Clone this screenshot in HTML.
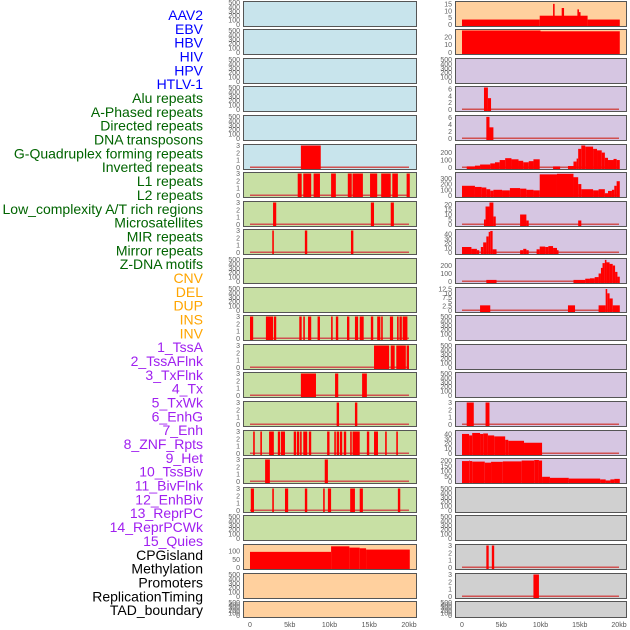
<!DOCTYPE html>
<html><head><meta charset="utf-8">
<style>
html,body{margin:0;padding:0;background:#fff;}
svg{display:block;font-family:"Liberation Sans",sans-serif;}
</style></head>
<body>
<svg id="chart" width="630" height="630" viewBox="0 0 630 630"></svg>
<script>
// ---- data ----
const trackLabels = ["AAV2","EBV","HBV","HIV","HPV","HTLV-1","Alu repeats","A-Phased repeats","Directed repeats","DNA transposons","G-Quadruplex forming repeats","Inverted repeats","L1 repeats","L2 repeats","Low_complexity A/T rich regions","Microsatellites","MIR repeats","Mirror repeats","Z-DNA motifs","CNV","DEL","DUP","INS","INV","1_TssA","2_TssAFlnk","3_TxFlnk","4_Tx","5_TxWk","6_EnhG","7_Enh","8_ZNF_Rpts","9_Het","10_TssBiv","11_BivFlnk","12_EnhBiv","13_ReprPC","14_ReprPCWk","15_Quies","CPGisland","Methylation","Promoters","ReplicationTiming","TAD_boundary"];
const labelGroups = [6,13,5,15,5];
const groupColors = ["#0000ff","#006400","#ffa500","#a020f0","#000000"];
const xTickLabels = ["0","5kb","10kb","15kb","20kb"];
const xTickValues = [0,5,10,15,20];
const emptyTicks = [0,100,200,300,400,500];
const barTicks = [0,1,2,3];

const m6 = [[6.4,8.9,3]];
const m7 = [[6.0,6.5,3],[6.7,7.7,3],[8.0,8.8,3],[10.2,10.8,3],[12.3,12.8,3],[12.9,14.2,3],[15.1,16.0,3],[16.5,17.7,3],[17.9,18.6,3],[19.7,20.1,3]];
const m8 = [[2.9,3.3,3],[15.2,15.6,3],[17.7,18.1,3]];
const m9 = [[2.8,3.0,3],[6.9,7.2,3],[12.7,13.0,3]];
const m12 = [[0,0.4,3],[2.0,2.9,3],[3.0,3.3,3],[6.2,6.5,3],[6.7,6.9,3],[7.3,7.7,3],[8.5,8.8,3],[10.2,10.4,3],[10.8,11.1,3],[12.2,12.5,3],[13.2,13.6,3],[13.8,14.3,3],[15.2,15.5,3],[16.0,16.4,3],[16.5,16.7,3],[17.6,18.0,3],[18.5,18.7,3],[18.8,19.1,3],[19.2,19.8,3]];
const m13 = [[15.6,17.5,3],[17.7,18.2,3],[18.4,19.6,3],[19.7,20.0,3]];
const m14 = [[6.4,8.3,3],[10.7,11.1,3],[14.1,14.7,3]];
const m15 = [[10.9,11.2,3],[13.2,13.5,3]];
const m16 = [[0.4,0.6,3],[1.3,1.5,3],[2.4,3.0,3],[3.5,3.8,3],[3.9,4.4,3],[5.5,5.8,3],[5.9,6.2,3],[6.3,6.5,3],[6.7,7.2,3],[7.4,7.7,3],[9.7,10.0,3],[10.6,10.8,3],[10.9,11.2,3],[11.3,11.6,3],[11.8,12.1,3],[12.6,12.8,3],[12.9,13.8,3],[14.7,15.0,3],[15.6,16.1,3],[17.0,17.2,3],[18.4,18.6,3]];
const m17 = [[1.9,2.5,3],[9.4,9.8,3]];
const m18 = [[0.1,0.5,3],[2.8,3.0,3],[4.4,4.8,3],[6.9,7.2,3],[9.2,9.4,3],[9.8,10.2,3],[12.6,13.2,3],[13.8,14.2,3],[18.6,18.9,3]];
const m20 = [[0,10.2,96],[10.2,12.5,130],[12.5,13.8,122],[13.8,14.6,118],[14.6,20.1,110]];

const r1 = [[0,9.9,3.6],[9.9,16.0,6.4],[11.6,11.8,15],[12.7,13.0,12],[14.7,14.9,11],[14.9,15.1,9],[16.0,20.1,3.6]];
const r2 = [[0,10,28],[10,20.1,27]];
const r4 = [[2.8,3.3,6.4],[3.3,3.7,3.3]];
const r5 = [[3.1,3.5,6.2],[3.5,4.0,3.2]];
const r6 = [[0.6,1.65,15],[1.65,2.3,25],[2.3,3.6,40],[3.6,4.2,55],[4.2,4.8,70],[4.8,5.5,100],[5.5,6.3,125],[6.3,7.2,110],[7.2,7.8,90],[7.8,8.5,70],[8.5,9.1,85],[9.1,9.9,110],[11.6,12.5,15],[13.5,14.2,20],[14.2,14.6,80],[14.6,14.8,120],[14.8,15.2,250],[15.2,15.7,295],[15.7,16.7,280],[16.7,17.2,250],[17.2,17.8,230],[17.8,18.2,200],[18.2,18.6,130],[18.6,19.3,100],[19.3,19.7,115],[19.7,20.1,100]];
const r7 = [[0,1.65,170],[1.65,2.5,150],[2.5,3.1,140],[3.1,3.6,110],[3.6,4.0,85],[4.0,5.1,100],[5.1,6.1,90],[6.1,7.4,130],[7.4,8.2,120],[8.2,9.1,100],[9.1,9.9,90],[9.9,12.1,370],[12.1,14.2,380],[14.2,14.8,320],[14.8,15.2,200],[15.2,16.7,110],[16.7,17.4,90],[17.4,18.2,110],[18.2,18.6,40],[18.6,19.1,80],[19.1,19.4,100],[19.4,19.7,170],[19.7,20.1,250]];
const r8 = [[2.8,3.0,5],[3.0,3.5,18],[3.5,4.0,22],[4.0,4.3,8],[7.4,8.2,10],[8.2,8.5,4],[14.8,15.2,4]];
const r9 = [[0,1.2,12],[1.2,1.9,8],[1.9,2.2,5],[2.4,2.7,12],[2.7,3.1,22],[3.1,3.4,35],[3.4,3.6,45],[3.6,3.9,47],[3.9,4.4,7],[7.4,7.8,5],[7.8,8.2,8],[8.2,8.5,5],[9.5,9.9,7],[9.9,10.6,13],[10.6,11.0,12],[11.0,11.6,14],[11.6,12.1,10],[12.1,12.3,5]];
const r10 = [[3.1,4.4,20],[14.2,15.7,20],[15.7,16.3,35],[16.3,16.9,40],[16.9,17.4,55],[17.4,17.7,100],[17.7,17.9,170],[17.9,18.2,230],[18.2,18.4,270],[18.4,18.8,240],[18.8,19.2,220],[19.2,19.5,200],[19.5,19.8,120],[19.8,20.1,60]];
const r11 = [[2.3,3.6,3],[13.5,14.4,3],[17.4,18.3,3],[18.3,18.5,12.5],[18.5,18.8,10],[18.8,19.2,7],[19.2,20.1,3]];
const r15 = [[0.6,1.5,3],[3.0,3.5,3]];
const r16 = [[0,0.9,40],[0.9,1.3,37],[1.3,2.3,42],[2.3,2.7,40],[2.7,3.3,41],[3.3,4.1,37],[4.1,5.5,35],[5.5,5.9,28],[5.9,7.9,26],[7.9,10.2,22]];
const r17 = [[0,0.9,195],[0.9,1.0,200],[1.0,1.3,195],[1.3,2.9,190],[2.9,3.7,180],[3.7,5.2,188],[5.2,7.6,192],[7.6,9.2,200],[9.2,9.8,205],[9.8,10.2,200],[10.2,11.2,45],[11.2,13.6,35],[13.6,17.6,28],[17.6,18.3,20],[18.3,18.9,10],[18.9,19.4,20],[19.4,20.1,25]];
const r20 = [[3.1,3.4,3],[3.8,4.1,3]];
const r21 = [[9.1,9.8,3]];

const BLUE="#c8e4ec", GREEN="#c8e0a4", PEACH="#ffd09e", LAV="#d6c6e2", GREY="#d0d0d0";
const panels = [
 [0,0,BLUE,emptyTicks,[],0],[0,1,BLUE,emptyTicks,[],0],[0,2,BLUE,emptyTicks,[],0],[0,3,BLUE,emptyTicks,[],0],[0,4,BLUE,emptyTicks,[],0],
 [0,5,BLUE,barTicks,m6,1],[0,6,GREEN,barTicks,m7,1],[0,7,GREEN,barTicks,m8,1],[0,8,GREEN,barTicks,m9,1],
 [0,9,GREEN,emptyTicks,[],0],[0,10,GREEN,emptyTicks,[],0],
 [0,11,GREEN,barTicks,m12,1],[0,12,GREEN,barTicks,m13,1],[0,13,GREEN,barTicks,m14,1],[0,14,GREEN,barTicks,m15,1],
 [0,15,GREEN,barTicks,m16,1],[0,16,GREEN,barTicks,m17,1],[0,17,GREEN,barTicks,m18,1],[0,18,GREEN,emptyTicks,[],0],
 [0,19,PEACH,[0,50,100],m20,0,135],[0,20,PEACH,emptyTicks,[],0],[0,21,PEACH,emptyTicks,[],0],
 [1,0,PEACH,[0,5,10,15],r1,0,16],[1,1,PEACH,[0,10,20],r2,0,28],[1,2,LAV,emptyTicks,[],0],
 [1,3,LAV,[0,2,4,6],r4,1,6.4],[1,4,LAV,[0,2,4,6],r5,1,6.3],[1,5,LAV,[0,100,200],r6,1,295],[1,6,LAV,[0,100,200,300],r7,1,385],
 [1,7,LAV,[0,5,10,15,20],r8,1,22],[1,8,LAV,[0,10,20,30,40],r9,1,48],[1,9,LAV,[0,100,200],r10,1,275],
 [1,10,LAV,[0,2.5,5,7.5,10,12.5],r11,1,12.8],[1,11,LAV,emptyTicks,[],0],[1,12,LAV,emptyTicks,[],0],[1,13,LAV,emptyTicks,[],0],
 [1,14,LAV,barTicks,r15,1],[1,15,LAV,[0,10,20,30,40],r16,1,45],[1,16,LAV,[0,50,100,150,200],r17,1,210],
 [1,17,GREY,emptyTicks,[],0],[1,18,GREY,emptyTicks,[],0],[1,19,GREY,barTicks,r20,1],[1,20,GREY,barTicks,r21,1],[1,21,GREY,emptyTicks,[],0]
];

const NS="http://www.w3.org/2000/svg";
const svg=document.getElementById('chart');
function mk(tag,attrs,parent){const e=document.createElementNS(NS,tag);for(const k in attrs)e.setAttribute(k,attrs[k]);(parent||svg).appendChild(e);return e;}
const colX=[[243,416,250,409],[455,626,462,619]];
function xScale(col,kb){const c=colX[col];return c[2]+(c[3]-c[2])*kb/20;}
function rowTop(r){return Math.round(0.5+r*28.6);}
function rowH(r){return r===21?16:25;}

let li=0;
labelGroups.forEach((n,g)=>{for(let k=0;k<n;k++){const t=mk('text',{x:203,y:15+li*13.84+5,'text-anchor':'end','font-size':'14',fill:groupColors[g]});


t.textContent=trackLabels[li];li++;}});

panels.forEach((p,i)=>{
 const [col,row,bg,ticks,segs,base,ymaxOpt]=p;
 const g=mk('g',{});
 
 
 const c=colX[col], top=rowTop(row), h=rowH(row);
 mk('rect',{x:c[0]+0.5,y:top+0.5,width:c[1]-c[0],height:h,fill:bg,stroke:'#555','stroke-width':1},g);
 const y0=top+h-1.5, y1=top+1.5;
 const ymax=ymaxOpt||ticks[ticks.length-1];
 const yS=v=>y0-(y0-y1)*Math.min(v,ymax)/ymax;
 ticks.forEach(t=>{const tx=mk('text',{x:c[0]-3,y:yS(t)+2.5,'text-anchor':'end','font-size':'7',fill:'#606060'},g);
  
  
  tx.textContent=t;});
 if(base){const bl=mk('rect',{x:xScale(col,0),y:y0-1,width:xScale(col,20)-xScale(col,0),height:1.5,fill:'#d05050'},g);
  
  }
 segs.forEach(s=>{const x0=xScale(col,s[0]),x1=xScale(col,s[1]);const yy=yS(s[2]);
  const r=mk('rect',{x:x0,y:yy,width:Math.max(0.8,x1-x0),height:top+h-yy,fill:'#ff0000'},g);
  
  });
});
[0,1].forEach(col=>{xTickValues.forEach((v,i)=>{const t=mk('text',{x:xScale(col,v),y:627,'text-anchor':'middle','font-size':'7',fill:'#555'});
 
 
 t.textContent=xTickLabels[i];});});
</script>
</body></html>
